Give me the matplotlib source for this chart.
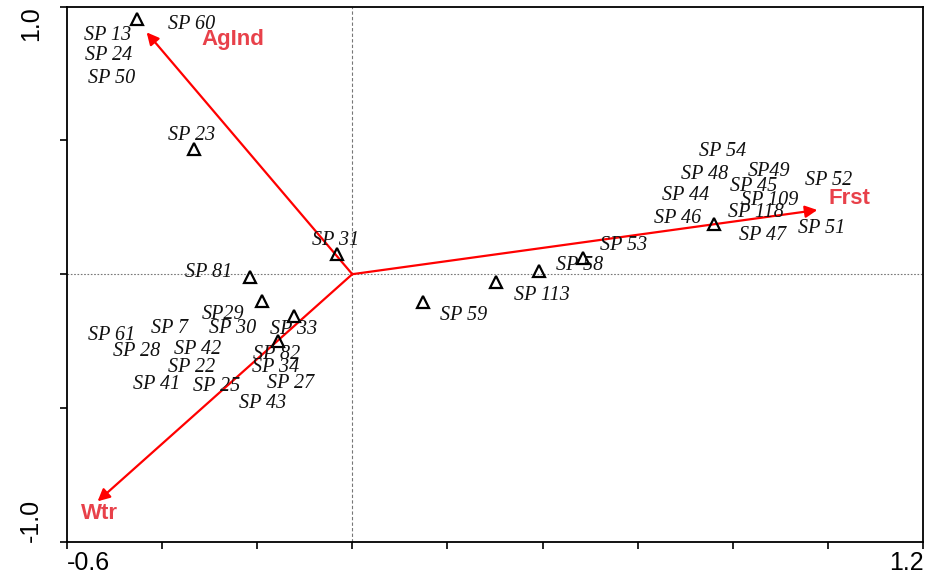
import matplotlib
matplotlib.use('Agg')
import matplotlib.pyplot as plt

# sample scores (triangles)
site_x = [-0.452, -0.332, -0.032, -0.215, -0.190, -0.122, -0.155, 0.148, 0.302, 0.393, 0.484, 0.760]
site_y = [0.955, 0.469, 0.077, -0.010, -0.100, -0.158, -0.249, -0.103, -0.031, 0.013, 0.059, 0.188]

# species scores (plotted as labels)
sp_names = ['SP 60', 'SP 13', 'SP 24', 'SP 50', 'SP 23', 'SP 31', 'SP 81', 'SP29', 'SP 7',
            'SP 30', 'SP 33', 'SP 61', 'SP 28', 'SP 42', 'SP 82', 'SP 22', 'SP 34', 'SP 27',
            'SP 41', 'SP 25', 'SP 43', 'SP 54', 'SP 48', 'SP49', 'SP 52', 'SP 45', 'SP 44',
            'SP 109', 'SP 46', 'SP 118', 'SP 47', 'SP 51', 'SP 53', 'SP 58', 'SP 113', 'SP 59']
sp_x = [-0.337, -0.515, -0.511, -0.505, -0.337, -0.034, -0.301, -0.272, -0.383,
        -0.251, -0.123, -0.505, -0.452, -0.324, -0.158, -0.337, -0.162, -0.129,
        -0.412, -0.286, -0.188, 0.779, 0.741, 0.875, 1.001, 0.844, 0.701,
        0.877, 0.684, 0.848, 0.861, 0.985, 0.569, 0.478, 0.399, 0.233]
sp_y = [0.933, 0.891, 0.817, 0.731, 0.518, 0.125, 0.006, -0.151, -0.204,
        -0.204, -0.207, -0.230, -0.290, -0.282, -0.301, -0.350, -0.350, -0.409,
        -0.413, -0.421, -0.484, 0.458, 0.372, 0.383, 0.349, 0.327, 0.294,
        0.275, 0.209, 0.230, 0.144, 0.170, 0.107, 0.032, -0.080, -0.155]

# environmental variables (arrows)
env_names = ['AgInd', 'Frst', 'Wtr']
env_x = [-0.432, 0.977, -0.535]
env_y = [0.904, 0.240, -0.849]
env_lab_x = [-0.251, 1.044, -0.532]
env_lab_y = [0.877, 0.282, -0.895]

fig = plt.figure(figsize=(9.26, 5.77), dpi=100)
ax = fig.add_axes([0.072, 0.0612, 0.9253, 0.9272])
ax.set_xlim(-0.6, 1.2)
ax.set_ylim(-1.0, 1.0)

ax.axhline(0, color='#777777', lw=0.8, ls=(0, (1.5, 1.5)), zorder=1)
ax.axvline(0, color='#777777', lw=0.8, ls=(0, (3, 2)), zorder=1)

for xe, ye in zip(env_x, env_y):
    ax.annotate('', xy=(xe, ye), xytext=(0, 0),
                arrowprops=dict(arrowstyle='-|>', color='red', lw=1.6,
                                mutation_scale=18, shrinkA=0, shrinkB=0), zorder=3)
for name, xl, yl in zip(env_names, env_lab_x, env_lab_y):
    ax.text(xl, yl, name, color='#e8414a', fontsize=16, fontweight='bold',
            family='Liberation Sans', ha='center', va='center', zorder=4)

ax.plot(site_x, site_y, '^', ms=8, mfc='none', mec='black', mew=1.6, zorder=4)

for name, xs, ys in zip(sp_names, sp_x, sp_y):
    ax.text(xs, ys, name, fontsize=14.5, style='italic', family='Liberation Serif',
            ha='center', va='center', color='#111111', zorder=5)

ax.set_xticks([-0.6, -0.4, -0.2, 0.0, 0.2, 0.4, 0.6, 0.8, 1.0, 1.2])
ax.set_xticklabels(['-0.6', '', '', '', '', '', '', '', '', '1.2'])
ax.set_yticks([-1.0, -0.5, 0.0, 0.5, 1.0])
ax.set_yticklabels(['-1.0', '', '', '', '1.0'])
ax.tick_params(axis='both', direction='out', length=5, width=1.2, labelsize=18)
ax.tick_params(axis='x', pad=2)
ax.tick_params(axis='y', pad=12)
for lab in ax.get_xticklabels() + ax.get_yticklabels():
    lab.set_family('Liberation Sans')
xl = ax.get_xticklabels()
xl[0].set_ha('left')
xl[-1].set_ha('right')
yl = ax.get_yticklabels()
for lab in yl:
    lab.set_rotation(90)
    lab.set_ha('right')
yl[0].set_va('bottom')
yl[-1].set_va('top')

for s in ax.spines.values():
    s.set_linewidth(1.3)

fig.savefig('out.png', dpi=100)
